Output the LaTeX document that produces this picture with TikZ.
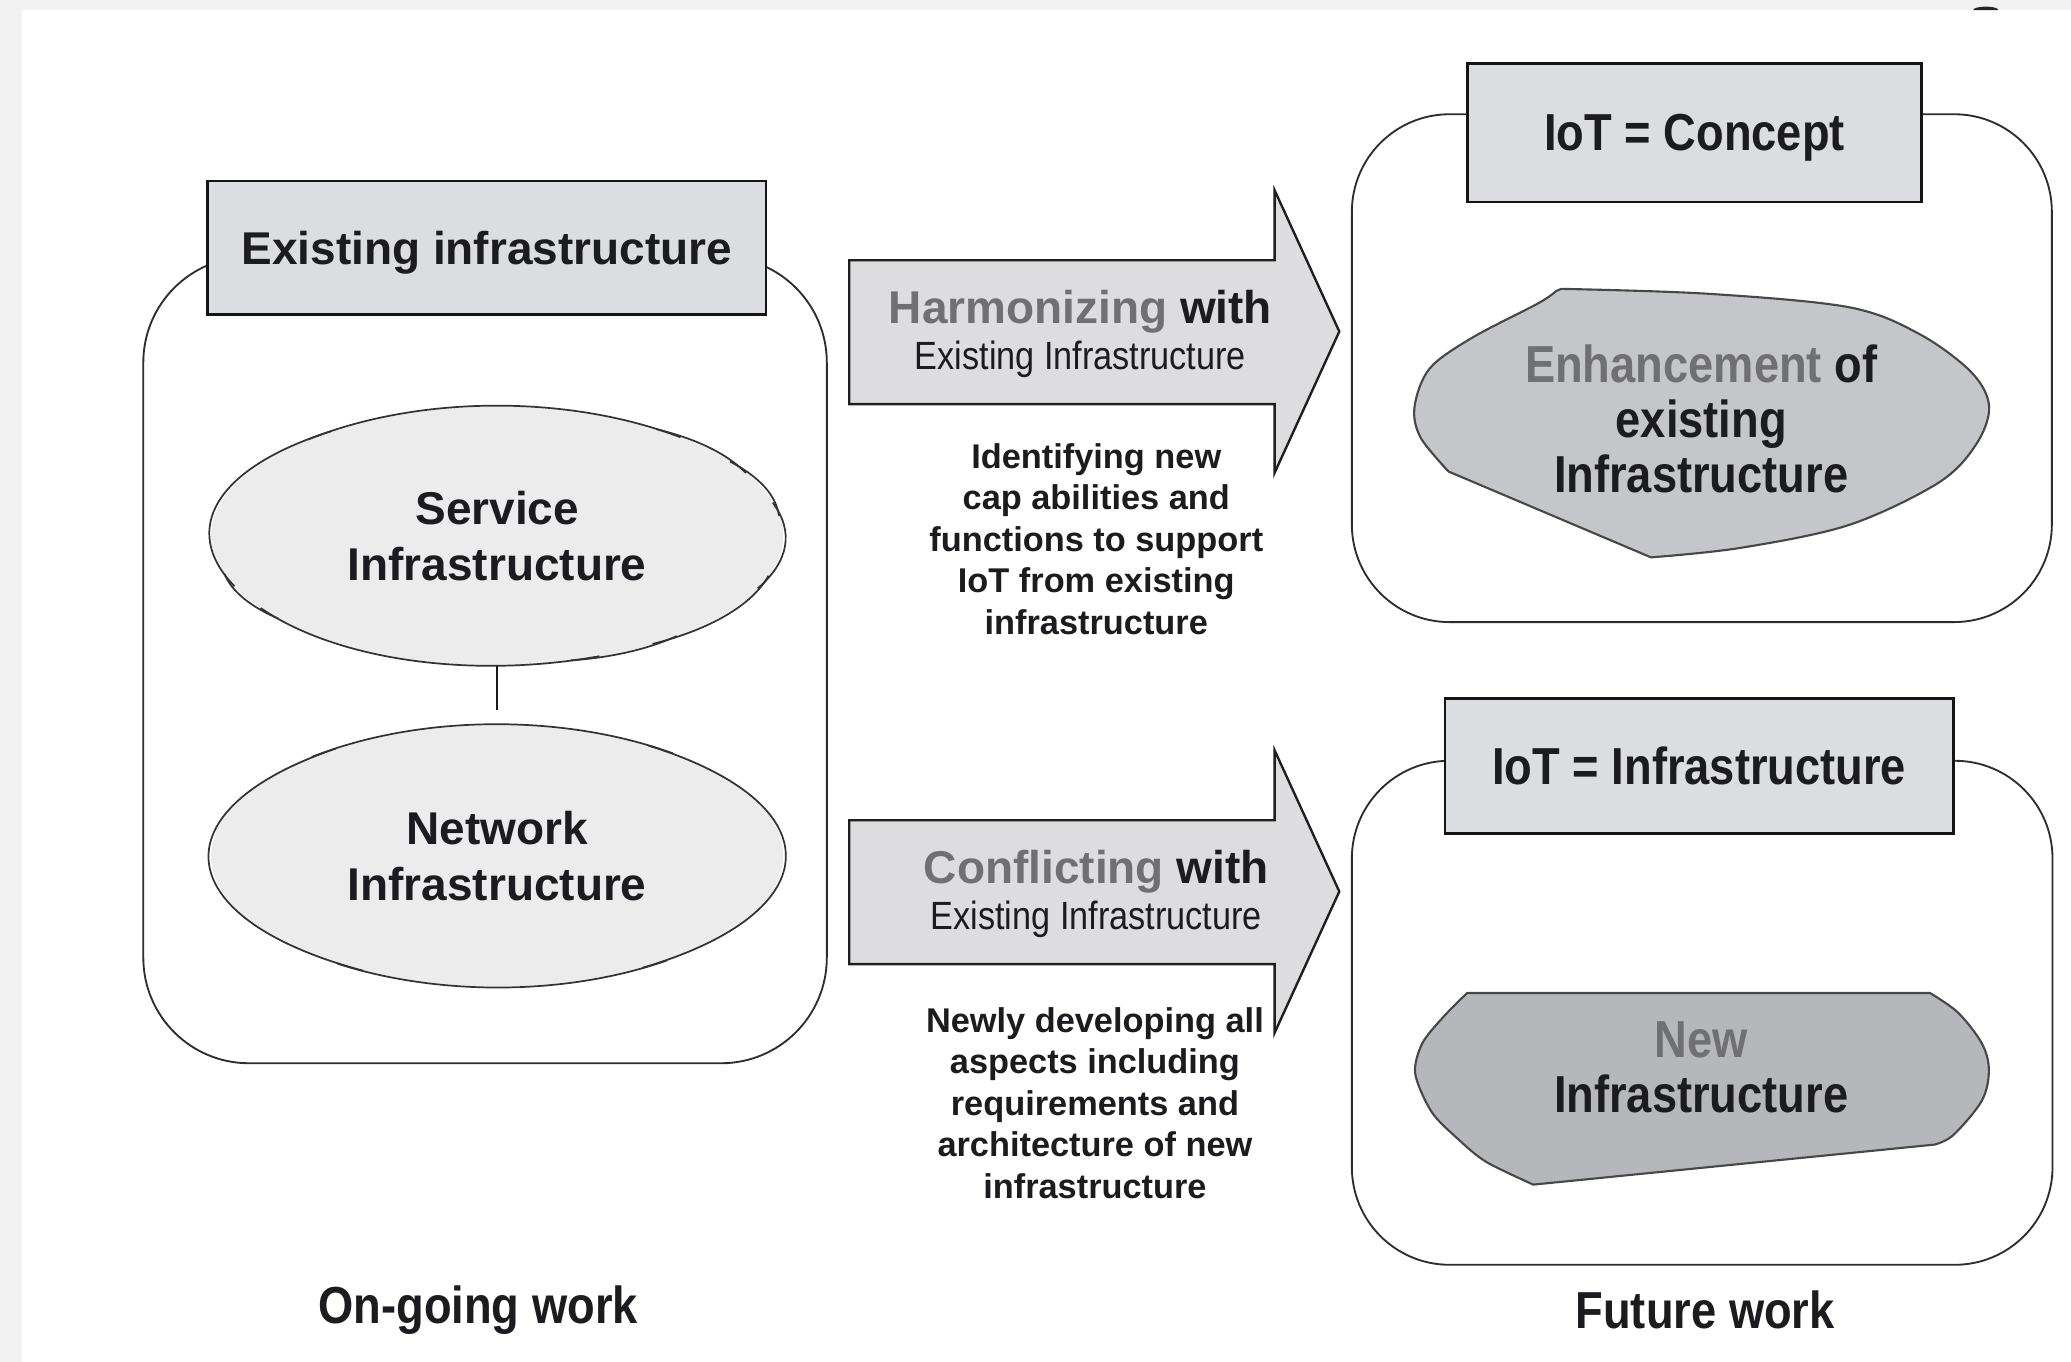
\documentclass[tikz,border=0pt]{standalone}
\usepackage{fontspec}
\setmainfont{Liberation Sans}
\newfontfamily\narrowfont[FakeStretch=0.87]{Liberation Sans}
\usetikzlibrary{shapes.geometric}
\definecolor{framegray}{RGB}{242,242,242}
\definecolor{headfill}{RGB}{220,221,224}
\definecolor{cloudfill}{RGB}{236,236,237}
\definecolor{cloudline}{RGB}{50,50,54}
\definecolor{arrowfill}{RGB}{221,221,223}
\definecolor{enhfill}{RGB}{197,198,201}
\definecolor{newfill}{RGB}{182,183,186}
\definecolor{graytext}{RGB}{112,112,115}
\definecolor{darktext}{RGB}{28,28,32}
\definecolor{boxline}{RGB}{45,45,48}
\newcommand\wideB{\fontsize{17.4pt}{21pt}\selectfont\bfseries}
\newcommand\bodyB{\fontsize{13pt}{15.7pt}\selectfont\bfseries}
\newcommand\narB{\narrowfont\fontsize{19.7pt}{20.75pt}\selectfont\bfseries}
\newcommand\narR{\narrowfont\fontsize{14.9pt}{17pt}\selectfont}
% cloud outline made of slightly bulging puffs between cusp angles
\newcommand\cloudpuffs[5]{%
  \foreach \cpa/\cpb in {#5}{%
    \pgfmathsetmacro\cta{\cpa-3}%
    \pgfmathsetmacro\ctb{\cpb+3}%
    \pgfmathsetmacro\cth{\ctb-\cta}%
    \pgfmathsetmacro\css{(8*1.012-2*cos(\cth/2))/(6*cos(\cth/6))}%
    \pgfmathsetmacro\cca{\cta+\cth/3}%
    \pgfmathsetmacro\ccb{\cta+2*\cth/3}%
    \draw[cloudline, line width=0.65pt]
      ({#1+#3*cos(\cta)},{#2+#4*sin(\cta)})
      .. controls ({#1+\css*#3*cos(\cca)},{#2+\css*#4*sin(\cca)})
      and ({#1+\css*#3*cos(\ccb)},{#2+\css*#4*sin(\ccb)})
      .. ({#1+#3*cos(\ctb)},{#2+#4*sin(\ctb)});
  }}
\begin{document}
\begin{tikzpicture}[x=0.5pt,y=-0.5pt,
  container/.style={rectangle, draw=boxline, line width=0.7pt, fill=white, inner sep=0pt},
  header/.style={rectangle, draw=black!92, line width=1pt, fill=headfill, inner sep=0pt, text=darktext},
  cloud/.style={ellipse, fill=cloudfill, inner sep=0pt, align=center, text=darktext},
  blockarrow/.style={draw=black!88, line width=0.9pt, fill=arrowfill, line join=miter},
  blob/.style={draw=black!72, line width=0.8pt},
  txt/.style={text=darktext, inner sep=0pt, align=center}]
\useasboundingbox (0,0) rectangle (1568,1031);
% frame
\fill[framegray] (0,0) rectangle (1568,1031);
\fill[white] (16.7,7.6) rectangle (1568,1031);
\fill[black!85] (1494,7.6) arc[start angle=180, end angle=360, x radius=9.5, y radius=2.6] -- cycle;

% containers
\node[container, rounded corners=40pt, minimum width=258.75pt, minimum height=305.25pt] (leftbox) at (367.25,499.75) {};
\node[container, rounded corners=37pt, minimum width=265pt, minimum height=192.25pt] (conceptbox) at (1288.5,278.75) {};
\node[container, rounded corners=37pt, minimum width=265.25pt, minimum height=190.8pt] (infrabox) at (1288.75,766.8) {};

% headers
\node[header, font=\wideB, text depth=0pt, minimum width=211.5pt, minimum height=50.5pt] (hexist) at (368.5,187.5) {Existing infrastructure};
\node[header, font=\narB, text depth=0pt, minimum width=172pt, minimum height=52.5pt] (hconcept) at (1283,100.5) {IoT = Concept};
\node[header, font=\narB, minimum width=192.5pt, minimum height=51pt] (hinfra) at (1286.5,580) {IoT = Infrastructure};

% clouds
\node[cloud, font=\wideB, minimum width=216.5pt, minimum height=98pt] (svc) at (376.4,405.8) {Service\\Infrastructure};
\cloudpuffs{376.4}{405.8}{216}{97.5}{21/54,54/72,72/143,143/160,160/231.5,231.5/307,307/327.7,327.7/348,348/381}
\node[cloud, font=\wideB, minimum width=216.5pt, minimum height=99pt] (net) at (376.4,648) {Network\\Infrastructure};
\cloudpuffs{376.4}{648}{216}{98.5}{56.4/121,121/232.5,232.5/305,305/416.4}
\draw[black!90, line width=0.9pt] (svc.south) -- ([yshift=5.5pt]net.north);

% block arrows
\filldraw[blockarrow] (643,197) -- (965,197) -- (965,144) -- (1014,251) -- (965,358) -- (965,306) -- (643,306) -- cycle;
\filldraw[blockarrow] (643,621) -- (965,621) -- (965,568) -- (1014,675) -- (965,782) -- (965,730) -- (643,730) -- cycle;

% blobs
\filldraw[blob, fill=enhfill] plot[smooth, tension=0.55] coordinates {(1182,218.7) (1292.8,222.4) (1399.8,232.6) (1453,252.8) (1492.5,281.8) (1506,307.8) (1496,336.7) (1467.5,365.6) (1399.8,397.5) (1317.8,414.8) (1250,422)}
  -- plot[smooth, tension=0.55] coordinates {(1096.7,357) (1075.4,331) (1071,307.8) (1082.5,278.9) (1114.6,255.7) (1164.5,229.7) (1178,220.5)} -- cycle;
\filldraw[blob, fill=newfill] (1110.8,751.8) -- plot[smooth, tension=0.55] coordinates {(1461.2,751.8) (1482.6,766.8) (1500.5,790) (1505.8,810.2) (1500.5,833.3) (1479,859.3) (1464.7,866.6)}
  -- plot[smooth, tension=0.5] coordinates {(1160.9,896.9) (1125.1,879.6) (1103.7,862.2) (1084,842) (1071.5,813) (1076.8,790) (1093,769.7) (1110.8,751.8)} -- cycle;

% arrow texts
\node[txt, font=\wideB] (harm) at (818,236) {\textcolor{graytext}{Harmonizing} with};
\node[txt, font=\narR] (harmsub) at (818,272) {Existing Infrastructure};
\node[txt, font=\bodyB] (ident) at (830,408) {Identifying new\\cap abilities and\\functions to support\\IoT from existing\\infrastructure};
\node[txt, font=\wideB] (conf) at (830,660) {\textcolor{graytext}{Conflicting} with};
\node[txt, font=\narR] (confsub) at (830,696) {Existing Infrastructure};
\node[txt, font=\bodyB] (newly) at (829,835) {Newly developing all\\aspects including\\requirements and\\architecture of new\\infrastructure};

% blob texts
\node[txt, font=\narB] (enh) at (1288,317) {\textcolor{graytext}{Enhancement} of\\existing\\Infrastructure};
\node[txt, font=\narB] (newinf) at (1288,808) {\textcolor{graytext}{New}\\Infrastructure};

% footers
\node[txt, font=\narB] (ongo) at (362,992) {On-going work};
\node[txt, font=\narB] (fut) at (1291,992) {Future work};
\end{tikzpicture}
\end{document}
